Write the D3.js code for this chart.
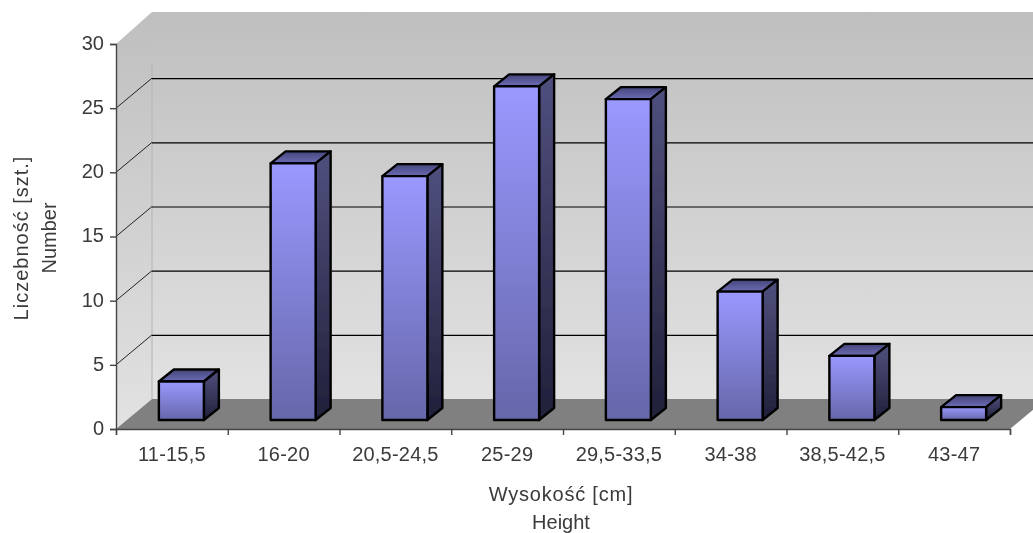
<!DOCTYPE html>
<html>
<head>
<meta charset="utf-8">
<script src="https://cdn.jsdelivr.net/npm/d3@7"></script>
<style>
  html, body { margin: 0; padding: 0; background: #fff; }
  svg { display: block; }
  text { font-family: "Liberation Sans", Arial, sans-serif; fill: #3a3a3a; }
</style>
</head>
<body>
<div id="chart"></div>
<script>
var categories = ["11-15,5", "16-20", "20,5-24,5", "25-29", "29,5-33,5", "34-38", "38,5-42,5", "43-47"];
var counts = [3, 20, 19, 26, 25, 10, 5, 1];
var yTicks = [0, 5, 10, 15, 20, 25, 30];
var yTitle = ["Liczebność [szt.]", "Number"];
var xTitle = ["Wysokość [cm]", "Height"];

var width = 1033, height = 533;
var x0 = 116, x1 = 1010, yBase = 429, yTop = 44;
// wall depth
var dx = 36, dy = -30, topDy = -32;
// bar depth and offset from the axis plane
var barDx = 15, barDy = -12, barShiftX = 9.5, barShiftY = -9;
var fontSize = 20;

var svg = d3.select("#chart").append("svg")
    .attr("width", width)
    .attr("height", height);

var defs = svg.append("defs");

function gradient(id, top, bottom) {
  var g = defs.append("linearGradient").attr("id", id)
      .attr("x1", 0).attr("y1", 0).attr("x2", 0).attr("y2", 1);
  g.append("stop").attr("offset", 0).attr("stop-color", top);
  g.append("stop").attr("offset", 1).attr("stop-color", bottom);
}
gradient("wall", "#bfbfbf", "#e2e2e2");
gradient("front", "#9999ff", "#6666aa");
gradient("side", "#50507f", "#20203a");
gradient("topface", "#45457a", "#6c6cb5");

// the reference is a slightly soft raster
defs.append("filter").attr("id", "soft")
    .attr("filterUnits", "userSpaceOnUse")
    .attr("x", 0).attr("y", 0).attr("width", width).attr("height", height)
  .append("feGaussianBlur").attr("stdDeviation", 0.35);

var root = svg.append("g").attr("filter", "url(#soft)");

var x = d3.scaleBand().domain(categories).range([x0, x1]);
var xEdges = d3.scaleLinear().domain([0, categories.length]).range([x0, x1]);
var y = d3.scaleLinear().domain([0, 30]).range([yBase, yTop]);

function poly(pts) {
  return pts.map(function(p) { return p.join(","); }).join(" ");
}

// walls
root.append("polygon")
    .attr("points", poly([[x0 + dx, y(30) + topDy], [x1 + dx, y(30) + topDy], [x1 + dx, y(0) + dy], [x0 + dx, y(0) + dy]]))
    .attr("fill", "url(#wall)");
root.append("polygon")
    .attr("points", poly([[x0, y(30)], [x0 + dx, y(30) + topDy], [x0 + dx, y(0) + dy], [x0, y(0)]]))
    .attr("fill", "url(#wall)");
root.append("line")
    .attr("x1", x0 + dx).attr("x2", x0 + dx)
    .attr("y1", y(30) + dy + 50).attr("y2", y(0) + dy)
    .attr("stroke", "#b4b4b4").attr("stroke-width", 1);

// floor
root.append("polygon")
    .attr("points", poly([[x0, y(0)], [x0 + dx, y(0) + dy], [x1 + dx, y(0) + dy], [x1, y(0)]]))
    .attr("fill", "#808080");

// gridlines
var gridTicks = yTicks.filter(function(d) { return d > 0 && d < 30; });
root.selectAll(".grid-back").data(gridTicks).enter().append("line")
    .attr("class", "grid-back")
    .attr("x1", x0 + dx).attr("x2", x1 + dx)
    .attr("y1", function(d) { return y(d) + dy + 0.5; })
    .attr("y2", function(d) { return y(d) + dy + 0.5; })
    .attr("stroke", "#000")
    .attr("stroke-width", 1.2);
root.selectAll(".grid-side").data(gridTicks).enter().append("line")
    .attr("class", "grid-side")
    .attr("x1", x0).attr("x2", x0 + dx)
    .attr("y1", function(d) { return y(d); })
    .attr("y2", function(d) { return y(d) + dy; })
    .attr("stroke", "#222");

// bars
var bar = root.selectAll(".bar").data(counts).enter().append("g")
    .attr("class", "bar")
    .attr("transform", function(d, i) {
      var c = x(categories[i]) + x.bandwidth() / 2 + barShiftX;
      return "translate(" + c + "," + barShiftY + ")";
    });

var half = 22.5;

bar.append("polygon")
    .attr("points", function(d) {
      return poly([[-half, y(d)], [half, y(d)], [half + barDx, y(d) + barDy], [-half + barDx, y(d) + barDy]]);
    })
    .attr("fill", "url(#topface)");
bar.append("polygon")
    .attr("points", function(d) {
      return poly([[half, y(d)], [half + barDx, y(d) + barDy], [half + barDx, y(0) + barDy], [half, y(0)]]);
    })
    .attr("fill", "url(#side)");
bar.append("rect")
    .attr("x", -half)
    .attr("y", function(d) { return y(d); })
    .attr("width", half * 2)
    .attr("height", function(d) { return y(0) - y(d); })
    .attr("fill", "url(#front)");
bar.selectAll("polygon, rect")
    .attr("stroke", "#000")
    .attr("stroke-width", 2.4)
    .attr("stroke-linejoin", "round");

// axes
var yAxis = d3.axisLeft(y).tickValues(yTicks).tickSize(6).tickPadding(6);
var gy = root.append("g").attr("transform", "translate(" + x0 + ",0)").call(yAxis);
gy.selectAll("text")
    .attr("font-size", fontSize)
    .attr("y", -1)
    .style("font-family", '"Liberation Sans", Arial, sans-serif')
    .attr("fill", "#3a3a3a");
gy.selectAll("path, line").attr("stroke", "#444").attr("stroke-width", 1.4);

var xTickAxis = d3.axisBottom(xEdges).tickValues(d3.range(0, categories.length + 1)).tickSize(6).tickFormat("");
var gxTicks = root.append("g").attr("transform", "translate(0," + yBase + ")").call(xTickAxis);
gxTicks.selectAll("path, line").attr("stroke", "#444").attr("stroke-width", 1.4);

var xAxis = d3.axisBottom(x).tickSize(0).tickPadding(18);
var gx = root.append("g").attr("transform", "translate(0," + yBase + ")").call(xAxis);
gx.select("path").remove();
gx.selectAll("text")
    .attr("font-size", fontSize)
    .style("font-family", '"Liberation Sans", Arial, sans-serif')
    .style("letter-spacing", "0.2px")
    .attr("fill", "#3a3a3a");

// titles
root.selectAll(".x-title").data(xTitle).enter().append("text")
    .attr("class", "x-title")
    .attr("x", 561)
    .attr("y", function(d, i) { return 501 + i * 28; })
    .attr("text-anchor", "middle")
    .attr("font-size", fontSize)
    .style("letter-spacing", function(d, i) { return i === 0 ? "0.8px" : "0"; })
    .text(function(d) { return d; });

root.selectAll(".y-title").data(yTitle).enter().append("text")
    .attr("class", "y-title")
    .attr("transform", function(d, i) { return "translate(" + (28 + i * 28) + ",238) rotate(-90)"; })
    .attr("text-anchor", "middle")
    .attr("font-size", fontSize)
    .style("letter-spacing", function(d, i) { return i === 0 ? "1px" : "0"; })
    .text(function(d) { return d; });
</script>
</body>
</html>
